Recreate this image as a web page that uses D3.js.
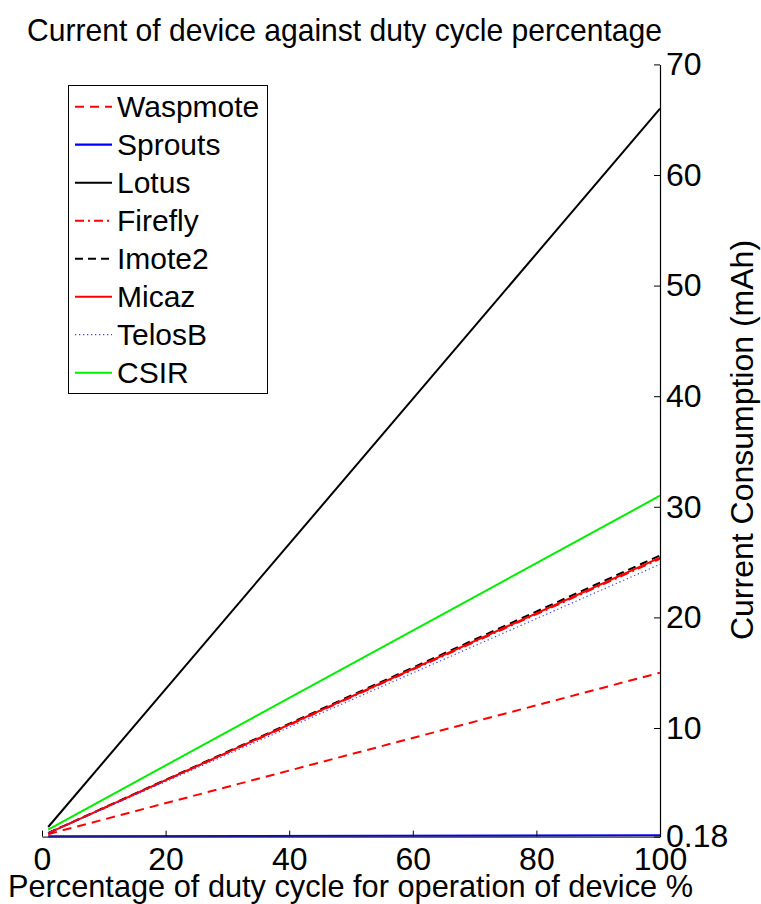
<!DOCTYPE html>
<html><head><meta charset="utf-8">
<script src="https://cdn.jsdelivr.net/npm/d3@7"></script>
<style>
body{margin:0;background:#fff}
text{font-family:"Liberation Sans",Arial,Helvetica,sans-serif;fill:#000}
</style>
</head><body>
<svg id="c" width="761" height="904"></svg>
<script>
// ---- data ----
const devices   = ["Waspmote","Sprouts","Lotus","Firefly","Imote2","Micaz","TelosB","CSIR"];
const dutyCycle = [1, 100];               // % duty cycle (x)
const waspmote  = [0.40, 15.0];
const sprouts   = [0.20, 0.30];
const lotus     = [1.05, 66.0];
const firefly   = [0.50, 25.3];
const imote2    = [0.50, 25.6];
const micaz     = [0.50, 25.4];
const telosB    = [0.48, 24.8];
const csir      = [0.82, 31.0];
const xTicks    = [0, 20, 40, 60, 80, 100];
const yTicks    = [0.18, 10, 20, 30, 40, 50, 60, 70];
const titleText = "Current of device against duty cycle percentage";
const xLabelText = "Percentage of duty cycle for operation of device %";
const yLabelText = "Current Consumption (mAh)";

const seriesValues = [waspmote, sprouts, lotus, firefly, imote2, micaz, telosB, csir];

// ---- styles ----
const styles = {
  Waspmote:{color:"#ff0000", dash:"9,6",       width:2},
  Sprouts: {color:"#0000ff", dash:null,        width:2.2},
  Lotus:   {color:"#000000", dash:null,        width:2},
  Firefly: {color:"#ff0000", dash:"9,4,2,4",   width:2},
  Imote2:  {color:"#000000", dash:"8,5",       width:2},
  Micaz:   {color:"#ff0000", dash:null,        width:2},
  TelosB:  {color:"#4444ff", dash:"1.3,2.7",   width:1.2},
  CSIR:    {color:"#00ee00", dash:null,        width:2}
};

const svg = d3.select("#c");
svg.append("rect").attr("width",761).attr("height",904).attr("fill","#fff");

const x = d3.scaleLinear().domain([0,100]).range([42,660]);
const y = d3.scaleLinear().domain([0.18,70]).range([836.6,64.4]);

const line = d3.line().x(d=>x(d[0])).y(d=>y(d[1]));

// series lines
const gLines = svg.append("g");
devices.forEach((name,i)=>{
  const pts = dutyCycle.map((dc,j)=>[dc, seriesValues[i][j]]);
  const s = styles[name];
  gLines.append("path").datum(pts)
    .attr("d", line)
    .attr("fill","none")
    .attr("stroke", s.color)
    .attr("stroke-width", s.width)
    .attr("stroke-dasharray", s.dash);
});

// axes
const xAxis = d3.axisBottom(x).tickValues(xTicks).tickSizeInner(-6).tickSizeOuter(0).tickPadding(11);
const gx = svg.append("g").attr("transform",`translate(0,${y(0.18)})`).call(xAxis);
gx.select(".domain").attr("stroke","#333").attr("stroke-width",1.2);
gx.selectAll(".tick line").attr("stroke","#000");
gx.selectAll("text").attr("font-size",32).attr("font-family",null);

const yAxis = d3.axisRight(y).tickValues(yTicks).tickSizeInner(-6).tickSizeOuter(0).tickPadding(6)
  .tickFormat(d=> d===0.18 ? "0.18" : d3.format("d")(d));
const gy = svg.append("g").attr("transform",`translate(${x(100)},0)`).call(yAxis);
gy.select(".domain").attr("stroke","#000").attr("stroke-width",1.2);
gy.selectAll(".tick line").attr("stroke","#000");
gy.selectAll("text").attr("font-size",32).attr("font-family",null);

// title
svg.append("text").attr("x",27).attr("y",41).attr("font-size",32)
  .attr("textLength",635).attr("lengthAdjust","spacingAndGlyphs").text(titleText);
// x label
svg.append("text").attr("x",8).attr("y",897).attr("font-size",32)
  .attr("textLength",685).attr("lengthAdjust","spacingAndGlyphs").text(xLabelText);
// y label
svg.append("text").attr("transform","translate(753,440) rotate(-90)").attr("font-size",32)
  .attr("text-anchor","middle").text(yLabelText);

// legend
const lg = svg.append("g");
lg.append("rect").attr("x",68.5).attr("y",85.5).attr("width",199).attr("height",308)
  .attr("fill","#fff").attr("stroke","#000").attr("stroke-width",1);
devices.forEach((name,i)=>{
  const s = styles[name];
  const cy = 106.7 + i*38;
  lg.append("line").attr("x1",75).attr("x2",112).attr("y1",cy).attr("y2",cy)
    .attr("stroke",s.color).attr("stroke-width",s.width).attr("stroke-dasharray",s.dash);
  lg.append("text").attr("x",117).attr("y",cy).attr("dy","0.34em").attr("font-size",30).text(name);
});
</script>
</body></html>
